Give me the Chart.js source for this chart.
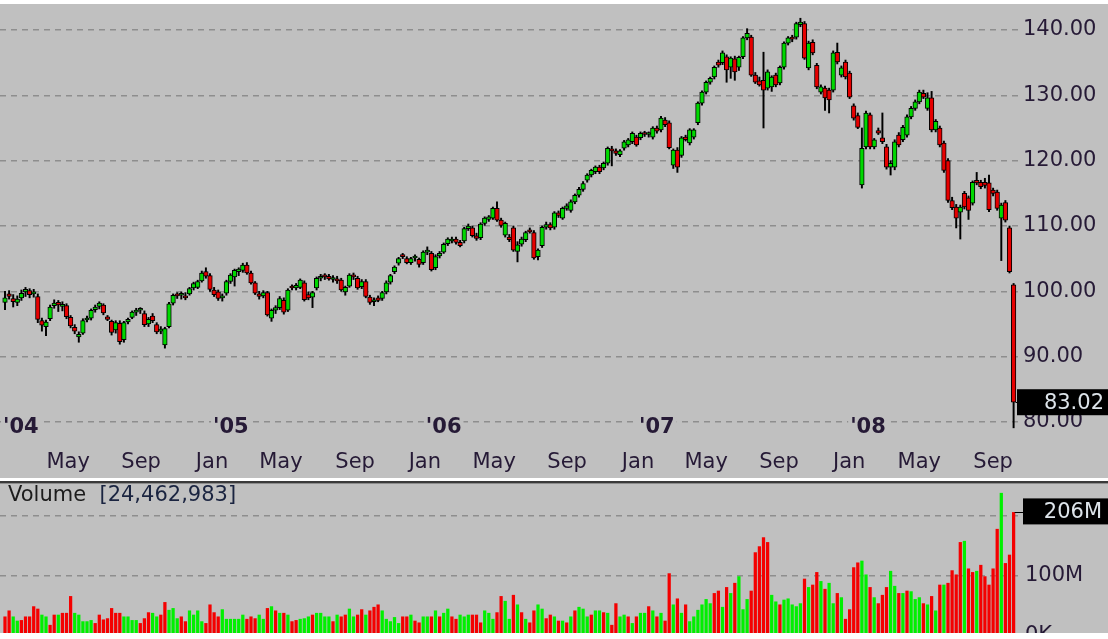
<!DOCTYPE html>
<html>
<head>
<meta charset="utf-8">
<script src="https://cdn.jsdelivr.net/npm/chart.js@4.4.0/dist/chart.umd.min.js"></script>
<style>
  html, body { margin: 0; padding: 0; background: #fff; }
  #wrap { position: relative; width: 1108px; height: 639px; overflow: hidden; background: #fff; }
  #pricePane { position: absolute; left: 0; top: 4px; width: 1108px; height: 474px; background: #c0c0c0; }
  #volPane { position: absolute; left: 0; top: 484px; width: 1108px; height: 155px; background: #c0c0c0; }
  .bar { position: absolute; left: 0; width: 1108px; }
</style>
</head>
<body>
<div id="wrap">
  <div id="pricePane"><canvas id="priceChart" width="1108" height="474"></canvas></div>
  <div class="bar" style="top:478px;height:3px;background:#ffffff"></div>
  <div class="bar" style="top:481px;height:2px;background:#3a3a3a"></div>
  <div class="bar" style="top:483px;height:1px;background:#8c8c8c"></div>
  <div id="volPane"><canvas id="volumeChart" width="1108" height="155"></canvas></div>
  <div class="bar" style="top:633px;height:6px;background:#ffffff"></div>
</div>
<script>
// weekly candles, Jan 2004 .. Sep 2008
const opens = [
  98.3,99.6,98.9,98.3,99.0,99.9,100.1,99.6,99.2,95.5,94.6,95.8,97.8,98.3,97.7,97.8,96.0,94.5,93.0,93.6,95.6,95.9,97.2,97.7,97.9,96.1,95.4,94.1,95.1,92.6,95.3,96.0,96.8,97.1,96.6,95.0,96.2,94.9,93.9,91.8,94.6,98.2,99.5,99.4,99.2,99.6,100.5,100.6,
  101.6,103.0,102.4,100.2,99.9,99.0,99.7,101.5,102.2,103.0,103.2,104.0,102.8,101.3,99.6,99.3,99.8,95.9,97.1,97.5,98.6,97.1,100.8,100.5,100.6,101.3,99.5,99.1,100.5,102.0,102.3,102.3,101.8,101.9,101.7,99.9,100.8,102.4,102.0,100.7,101.5,99.1,98.4,99.0,98.9,99.9,
  101.4,103.0,104.3,105.5,105.0,104.4,105.1,104.9,104.4,106.0,105.8,103.6,105.4,106.0,107.3,107.7,108.0,107.5,107.7,109.6,109.7,108.5,108.2,110.4,111.0,111.2,112.7,110.9,108.6,108.3,109.7,106.1,107.2,107.9,109.4,109.0,105.3,107.0,109.8,110.2,109.8,112.0,111.2,112.7,112.4,113.7,114.7,
  115.6,117.0,117.8,118.3,119.0,118.9,119.6,121.8,121.5,120.9,121.9,122.4,122.9,123.6,123.5,124.2,124.0,123.6,125.0,124.7,126.2,125.8,119.3,121.6,120.8,123.6,122.7,123.6,125.8,
  128.8,130.5,132.0,132.8,135.1,135.0,135.9,134.3,135.6,134.3,135.9,138.8,138.9,133.1,132.2,132.3,131.1,131.3,133.1,131.9,134.3,138.0,138.8,138.9,140.8,141.0,134.2,138.1,134.6,130.5,131.1,130.8,130.8,136.6,133.1,135.1,133.4,128.4,126.9,
  116.3,122.1,127.0,122.1,124.6,123.5,122.1,119.0,119.0,123.9,123.2,123.9,126.7,128.0,129.0,130.3,128.0,129.6,124.7,125.0,122.7,120.0,
  113.9,112.9,112.1,115.0,114.3,113.5,117.0,116.7,116.7,116.6,115.5,115.2,111.2,113.6,109.7,101.0
];
const highs = [
  100.0,100.1,99.5,99.3,100.2,100.6,100.4,100.3,99.6,95.9,95.6,97.9,98.7,98.6,98.4,98.1,96.3,94.9,93.8,95.8,96.2,97.3,97.9,98.4,98.1,96.3,95.6,95.5,95.5,95.4,95.9,97.0,97.4,97.5,97.0,96.0,96.6,95.2,94.6,94.5,98.3,99.6,99.8,99.9,99.8,100.6,101.4,101.7,
  103.1,103.6,102.7,100.6,100.2,99.6,101.7,102.7,103.4,103.6,104.3,104.4,103.1,101.5,100.0,100.1,100.0,97.3,97.8,99.2,99.0,100.4,101.0,101.2,101.9,101.6,99.9,100.0,102.2,102.6,102.7,102.6,102.4,102.3,102.0,100.8,102.7,102.8,102.3,101.8,101.8,99.4,99.0,99.3,100.0,101.6,
  102.6,103.9,105.2,105.8,105.3,105.2,105.6,105.1,106.2,106.8,106.1,105.6,106.1,107.4,108.2,108.3,108.3,107.8,109.8,110.3,110.0,108.9,110.5,111.4,111.6,112.9,113.7,111.2,110.6,108.7,110.0,107.6,108.3,109.2,109.7,109.3,106.5,110.0,110.6,110.5,112.2,112.3,112.9,113.4,114.0,114.9,115.9,
  116.8,118.0,118.7,119.2,119.3,119.8,122.1,122.2,121.8,121.7,123.1,123.4,124.4,123.9,124.4,124.5,124.4,125.2,125.3,126.8,126.6,126.1,121.8,122.0,123.7,123.9,124.9,124.9,129.0,
  130.7,132.2,132.8,134.5,135.4,136.8,136.2,135.9,136.0,136.0,139.0,140.2,139.2,133.5,132.8,136.6,133.9,133.0,133.4,134.5,138.2,139.0,139.2,141.2,141.8,141.3,138.3,138.5,134.9,131.6,131.4,131.1,136.8,138.0,134.5,135.4,133.7,128.7,127.3,
  125.0,127.6,127.3,123.4,125.0,127.3,122.5,120.0,123.2,124.3,125.4,127.0,128.3,129.3,130.8,130.8,130.4,130.6,126.3,125.3,123.0,120.3,
  114.4,113.3,113.2,115.3,114.6,116.9,118.2,117.0,117.3,117.8,115.8,115.5,113.5,113.9,110.0,101.2
];
const lows = [
  97.2,98.8,97.6,97.8,98.6,99.2,99.0,99.1,95.2,93.9,93.2,95.5,97.4,96.9,97.0,95.8,94.4,93.5,92.2,93.4,95.3,95.6,96.8,97.3,96.4,95.5,93.3,93.6,91.9,92.2,95.0,95.8,96.3,96.6,94.6,94.6,95.2,93.5,93.5,91.3,94.4,97.9,98.9,98.8,98.7,99.4,100.2,100.4,
  101.4,102.0,100.0,99.2,98.6,98.5,99.4,101.2,100.8,102.4,102.9,102.6,101.1,99.5,98.8,99.0,96.2,95.4,96.6,97.2,96.5,96.9,100.2,100.2,100.4,98.5,98.7,97.5,100.2,101.6,101.8,101.7,101.4,101.2,100.0,99.4,100.6,101.8,100.3,100.4,99.0,98.0,97.8,98.4,98.6,99.6,
  101.1,102.7,104.0,105.0,104.2,104.1,104.6,103.7,104.1,105.6,103.1,103.3,105.1,105.8,107.0,107.4,107.2,106.8,107.4,109.3,108.3,107.8,107.9,110.1,110.7,111.0,110.7,109.8,108.3,107.6,106.1,104.5,106.9,107.6,108.9,104.9,104.8,106.7,109.5,109.4,109.5,111.3,111.0,112.4,112.1,113.4,114.4,
  115.3,116.7,117.5,118.0,118.0,118.6,119.3,119.2,120.8,120.6,121.6,122.1,122.6,122.2,123.2,123.7,123.6,123.3,124.2,124.4,125.2,121.8,118.8,118.2,120.5,123.0,122.4,123.3,125.5,
  128.5,130.2,131.7,132.5,134.3,134.7,132.0,132.6,132.3,133.8,135.6,138.5,132.9,131.8,131.4,125.0,130.8,130.6,131.3,131.6,134.0,137.7,138.2,138.6,140.5,135.5,133.9,136.2,131.0,130.2,127.7,127.3,130.5,134.8,132.8,132.5,129.5,126.2,124.9,
  115.8,121.8,121.8,121.8,124.0,122.6,118.7,117.8,118.6,122.1,122.9,123.6,126.4,127.7,128.7,129.5,127.7,124.4,124.4,122.1,118.2,113.6,
  112.5,109.7,108.0,112.6,111.0,113.2,116.3,115.7,115.8,112.2,114.6,112.4,104.7,110.6,102.8,79.1
];
const closes = [
  99.0,99.2,98.4,98.8,99.7,100.3,99.5,99.9,95.7,94.8,95.3,97.6,98.2,97.9,98.0,96.1,94.7,93.9,93.4,95.5,95.9,97.1,97.6,98.2,96.7,95.7,93.7,95.2,92.3,95.2,95.7,96.8,97.0,97.2,94.9,95.7,95.5,93.8,94.1,94.3,98.1,99.4,99.3,99.5,99.0,100.4,101.2,101.5,
  102.8,102.3,100.3,99.5,98.9,99.3,101.5,102.5,103.2,103.4,104.0,102.8,101.3,99.7,99.2,99.8,96.4,97.1,97.5,98.9,96.8,100.2,100.5,100.9,101.7,98.7,99.0,99.8,102.0,102.3,102.2,101.9,102.1,101.6,100.2,100.6,102.5,102.2,100.5,101.5,99.2,98.3,98.7,98.6,99.8,101.3,
  102.4,103.7,105.0,105.3,104.4,105.0,105.2,104.1,106.0,106.3,103.3,105.3,105.8,107.2,108.0,108.0,107.5,107.0,109.6,110.0,108.5,108.1,110.3,111.2,111.4,112.7,110.9,110.1,110.4,107.9,106.3,107.1,108.0,109.0,109.1,105.1,106.3,109.8,110.2,109.7,112.0,111.6,112.7,113.1,113.7,114.7,115.6,
  116.5,117.8,118.5,119.0,118.3,119.6,121.9,121.5,121.1,121.5,122.9,123.2,124.2,122.4,124.2,124.0,124.2,125.0,124.5,126.5,125.5,122.0,121.6,119.0,123.5,123.2,124.7,124.7,128.8,
  130.5,132.0,132.6,134.3,134.6,136.5,133.9,135.7,133.6,135.8,138.8,139.5,133.1,132.0,131.6,130.8,133.6,132.8,131.6,134.3,138.0,138.8,138.6,141.0,141.2,135.7,138.0,136.5,131.3,131.3,129.6,129.3,136.5,135.1,134.2,132.8,129.7,126.5,125.1,
  121.9,127.3,122.1,123.2,124.2,122.9,119.0,119.6,122.9,122.4,125.1,126.7,128.0,129.0,130.5,129.7,129.6,124.7,126.0,122.4,118.5,113.9,
  112.8,111.2,112.9,112.9,112.4,116.7,116.6,116.0,116.2,112.5,115.0,112.7,113.2,110.9,103.0,83.02
];
// weekly volume, millions of shares
const volumes = [
  32,42,32,25,26,32,32,49,45,35,32,18,35,35,38,38,66,38,35,24,24,26,21,35,27,29,46,38,38,32,32,26,26,21,29,39,38,32,35,56,43,46,29,32,24,42,35,42,24,21,52,39,32,44,28,28,28,28,35,28,32,29,35,28,46,49,42,38,38,35,24,26,28,29,32,35,38,38,32,32,24,35,
  32,35,45,32,35,44,35,42,48,52,42,28,24,31,21,32,32,35,25,22,32,32,32,42,32,38,45,32,28,35,32,35,35,35,22,42,38,28,39,66,58,28,68,52,39,28,22,42,52,45,29,35,32,25,25,22,32,42,48,45,32,35,42,42,39,38,18,54,32,35,32,21,32,38,38,49,42,32,38,25,104,52,62,
  38,52,24,32,43,52,61,54,71,75,48,81,71,88,99,44,61,75,139,149,164,156,68,57,52,60,62,52,49,54,95,81,85,106,91,78,88,54,71,64,28,44,114,122,125,102,81,64,54,68,81,108,83,71,71,75,74,61,64,54,52,66,42,85,85,88,109,102,156,158,112,106,108,118,99,85,112,178,238,121,135,206
];
// g = up week, r = down week, as coloured in the volume pane
const volumeDirs =
  "rrggrrrrrg" + "grrgrrrggg" + "ggrrrrrrrg" + "gggrrrggrr" + "gggrrggggr" + "rrrggggggr" + "rrggrgrgrg" + "rrgggrgggg" + "rg" +
  "rrggrrgrrr" + "gggggrrgrr" + "ggrgrggrrg" + "ggrrrgggrr" + "ggrgrgrrgg" + "rrgrgrgrgg" + "grggrgrrgg" + "rgrggrgrgr" + "rgr" +
  "grggggggrr" + "grgrgggrrr" + "rrggrggggg" + "rgrrgrggrg" + "rrrrggrgrr" + "rggrgrgggr" + "grgrgrrrrg" + "rrgrrrrrgr" + "rr";

const priceTicks = [80, 90, 100, 110, 120, 130, 140];
const volumeTicks = [0, 100, 200];
const monthLabels = ["May", "Sep", "Jan", "May", "Sep", "Jan", "May", "Sep", "Jan", "May", "Sep", "Jan", "May", "Sep"];
const monthWeeks = [15.4, 33.2, 50.5, 67.3, 85.4, 102.4, 119.3, 137.1, 154.4, 171.0, 188.8, 205.9, 223.0, 241.0];
const yearLabels = ["'04", "'05", "'06", "'07", "'08"];
const yearWeeks = [-1.2, 50.5, 102.4, 154.4, 205.9];
const lastVolumeText = "24,462,983";

const UP = "#00d800", DOWN = "#e60000";
const VOL_UP = "#00f000", VOL_DOWN = "#f40000";
const BG = "#c0c0c0", TEXT = "#261a36", GRID = "#8e8e8e";
const FONT = '"DejaVu Sans", "Liberation Sans", sans-serif';

Chart.defaults.font.family = FONT;
Chart.defaults.font.size = 21;

const weeks = closes.map((_, i) => i);
const last = weeks.length - 1;
const X_MIN = -1.22, X_MAX = X_MIN + 1018 / 4.1;

function rightAxis(extra) {
  return Object.assign({
    position: "right",
    afterFit: s => { s.width = 90; s.paddingTop = 0; s.paddingBottom = 0; },
    grid: { color: GRID, lineWidth: 1.6, drawTicks: false },
    border: { display: false, dash: [6, 5] },
    ticks: { padding: 5, color: TEXT, font: { size: 21 } }
  }, extra);
}

const weekAxis = { type: "linear", min: X_MIN, max: X_MAX, offset: false, display: false, grid: { offset: false } };

const pricePlugin = {
  id: "priceLabels",
  afterDraw(chart) {
    const { ctx, scales: { x, y } } = chart;
    ctx.save();
    ctx.textBaseline = "middle";
    ctx.fillStyle = TEXT;
    ctx.font = "21px " + FONT;
    ctx.textAlign = "center";
    monthLabels.forEach((m, k) => ctx.fillText(m, x.getPixelForValue(monthWeeks[k]), 459));
    ctx.font = "bold 21px " + FONT;
    ctx.textAlign = "left";
    yearLabels.forEach((t, k) => {
      const px = Math.max(x.getPixelForValue(yearWeeks[k]) + 1, 3);
      const w = ctx.measureText(t).width;
      ctx.fillStyle = BG;
      ctx.fillRect(px - 2, 412, w + 4, 22);
      ctx.fillStyle = TEXT;
      ctx.fillText(t, px, 424);
    });
    // last price marker
    const cx = x.getPixelForValue(last), cy = y.getPixelForValue(closes[last]);
    ctx.strokeStyle = "#000"; ctx.lineWidth = 1;
    ctx.beginPath(); ctx.moveTo(cx + 2, Math.round(cy) + 0.5); ctx.lineTo(1018, Math.round(cy) + 0.5); ctx.stroke();
    ctx.fillStyle = "#000";
    ctx.fillRect(1017, cy - 13, 91, 26);
    ctx.fillStyle = "#dde4ea";
    ctx.font = "21px " + FONT;
    ctx.textAlign = "right";
    ctx.fillText(closes[last].toFixed(2), 1104, cy + 1);
    ctx.restore();
  }
};

new Chart(document.getElementById("priceChart"), {
  type: "bar",
  data: {
    datasets: [
      {
        label: "body",
        data: weeks.map(i => ({ x: i, y: [opens[i], closes[i]] })),
        backgroundColor: weeks.map(i => closes[i] >= opens[i] ? UP : DOWN),
        borderColor: "#000",
        borderWidth: 1,
        borderSkipped: false,
        barThickness: 4.6,
        minBarLength: 2,
        grouped: false,
        order: 0
      },
      {
        label: "wick",
        data: weeks.map(i => ({ x: i, y: [lows[i], highs[i]] })),
        backgroundColor: "#000",
        barThickness: 1.3,
        grouped: false,
        order: 1
      }
    ]
  },
  options: {
    responsive: false,
    animation: false,
    layout: { padding: 0 },
    plugins: { legend: { display: false }, tooltip: { enabled: false } },
    scales: {
      x: weekAxis,
      y: rightAxis({
        min: 71.42, max: 143.98,
        afterBuildTicks: s => { s.ticks = priceTicks.map(v => ({ value: v })); },
        ticks: { padding: 5, color: TEXT, font: { size: 21 }, callback: v => Number(v).toFixed(2) }
      })
    }
  },
  plugins: [pricePlugin]
});

const volumePlugin = {
  id: "volumeLabels",
  afterDraw(chart) {
    const { ctx, scales: { x, y } } = chart;
    ctx.save();
    ctx.textBaseline = "middle";
    ctx.font = "21px " + FONT;
    ctx.textAlign = "left";
    ctx.fillStyle = "#1c1c1c";
    ctx.fillText("Volume", 8, 12);
    const w = ctx.measureText("Volume  ").width;
    ctx.fillStyle = "#1a2440";
    ctx.fillText("[" + lastVolumeText + "]", 8 + w, 12);
    const bx = x.getPixelForValue(last), by = y.getPixelForValue(volumes[last]);
    ctx.strokeStyle = "#000"; ctx.lineWidth = 1;
    ctx.beginPath(); ctx.moveTo(bx + 1, Math.round(by) + 0.5); ctx.lineTo(1024, Math.round(by) + 0.5); ctx.stroke();
    ctx.fillStyle = "#000";
    ctx.fillRect(1023, by - 14, 85, 26);
    ctx.fillStyle = "#dde4ea";
    ctx.textAlign = "right";
    ctx.fillText(volumes[last] + "M", 1102, by);
    ctx.restore();
  }
};

new Chart(document.getElementById("volumeChart"), {
  type: "bar",
  data: {
    datasets: [{
      label: "Volume",
      data: weeks.map(i => ({ x: i, y: volumes[i] })),
      backgroundColor: weeks.map(i => volumeDirs[i] === "g" ? VOL_UP : VOL_DOWN),
      borderWidth: 0,
      barThickness: 2.6
    }]
  },
  options: {
    responsive: false,
    animation: false,
    layout: { padding: { top: 1, bottom: 3, left: 0, right: 0 } },
    plugins: { legend: { display: false }, tooltip: { enabled: false } },
    scales: {
      x: weekAxis,
      y: rightAxis({
        min: 0, max: 251.67,
        afterBuildTicks: s => { s.ticks = volumeTicks.map(v => ({ value: v })); },
        ticks: { padding: 7, color: TEXT, font: { size: 21 }, callback: v => v === 0 ? "0K" : (v === 100 ? "100M" : "") }
      })
    }
  },
  plugins: [volumePlugin]
});
</script>
</body>
</html>
